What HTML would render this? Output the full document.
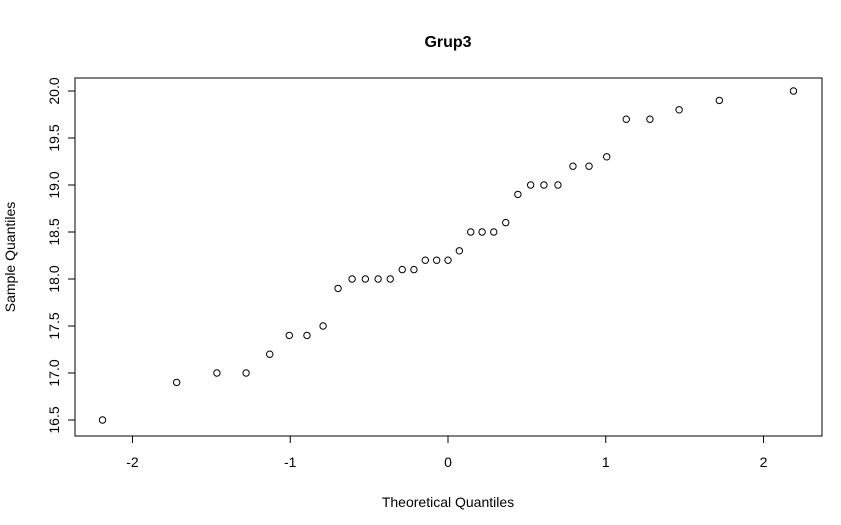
<!DOCTYPE html>
<html><head><meta charset="utf-8"><style>
html,body{margin:0;padding:0;background:#fff;}
svg{display:block;font-family:"Liberation Sans",Arial,sans-serif;}
</style></head><body>
<svg id="chart" width="841" height="525" viewBox="0 0 841 525">
<rect x="75" y="78" width="747" height="358" fill="none" stroke="#000" stroke-width="1"/>
<text x="448" y="47" text-anchor="middle" font-size="16" font-weight="bold">Grup3</text>
<text x="448" y="507" text-anchor="middle" font-size="14">Theoretical Quantiles</text>
<text transform="translate(15,257) rotate(-90)" text-anchor="middle" font-size="14">Sample Quantiles</text>
<g id="xaxis"></g>
<g id="yaxis"></g>
<g id="points"></g>
</svg>
<script>
const theoretical = [-2.19,-1.72,-1.465,-1.28,-1.13,-1.006,-0.894,-0.792,-0.697,-0.608,-0.524,-0.443,-0.366,-0.29,-0.216,-0.144,-0.072,0,0.072,0.144,0.216,0.29,0.366,0.443,0.524,0.608,0.697,0.792,0.894,1.006,1.13,1.28,1.465,1.72,2.19];
const sample = [16.5,16.9,17.0,17.0,17.2,17.4,17.4,17.5,17.9,18.0,18.0,18.0,18.0,18.1,18.1,18.2,18.2,18.2,18.3,18.5,18.5,18.5,18.6,18.9,19.0,19.0,19.0,19.2,19.2,19.3,19.7,19.7,19.8,19.9,20.0];
const xTicks = [-2,-1,0,1,2];
const xTickLabels = ["-2","-1","0","1","2"];
const yTicks = [16.5,17.0,17.5,18.0,18.5,19.0,19.5,20.0];
const yTickLabels = ["16.5","17.0","17.5","18.0","18.5","19.0","19.5","20.0"];

const NS="http://www.w3.org/2000/svg";
function xs(v){return 448+v*157.75;}
function ys(v){return 420-(v-16.5)*(329/3.5);}
function mk(tag,attrs,parent){const e=document.createElementNS(NS,tag);for(const k in attrs)e.setAttribute(k,attrs[k]);parent.appendChild(e);return e;}

const xa=document.getElementById('xaxis');
mk('line',{x1:xs(xTicks[0]),x2:xs(xTicks[xTicks.length-1]),y1:436,y2:436,stroke:'#000'},xa);
xTicks.forEach((t,i)=>{
  const l=mk('line',{x1:xs(t),x2:xs(t),y1:436,y2:443,stroke:'#000'},xa);
  
  
  const tx=mk('text',{x:xs(t),y:467,'text-anchor':'middle','font-size':14},xa);
  tx.textContent=xTickLabels[i];
  
  
});
const ya=document.getElementById('yaxis');
mk('line',{x1:75,x2:75,y1:ys(yTicks[0]),y2:ys(yTicks[yTicks.length-1]),stroke:'#000'},ya);
yTicks.forEach((t,i)=>{
  const l=mk('line',{x1:68,x2:75,y1:ys(t),y2:ys(t),stroke:'#000'},ya);
  
  
  const tx=mk('text',{transform:`translate(59,${ys(t)}) rotate(-90)`,'text-anchor':'middle','font-size':14},ya);
  tx.textContent=yTickLabels[i];
  
  
});
const pg=document.getElementById('points');
theoretical.forEach((t,i)=>{
  const c=mk('circle',{cx:xs(t),cy:ys(sample[i]),r:3.2,fill:'none',stroke:'#000','stroke-width':1},pg);
  
  
});
</script>
</body></html>
